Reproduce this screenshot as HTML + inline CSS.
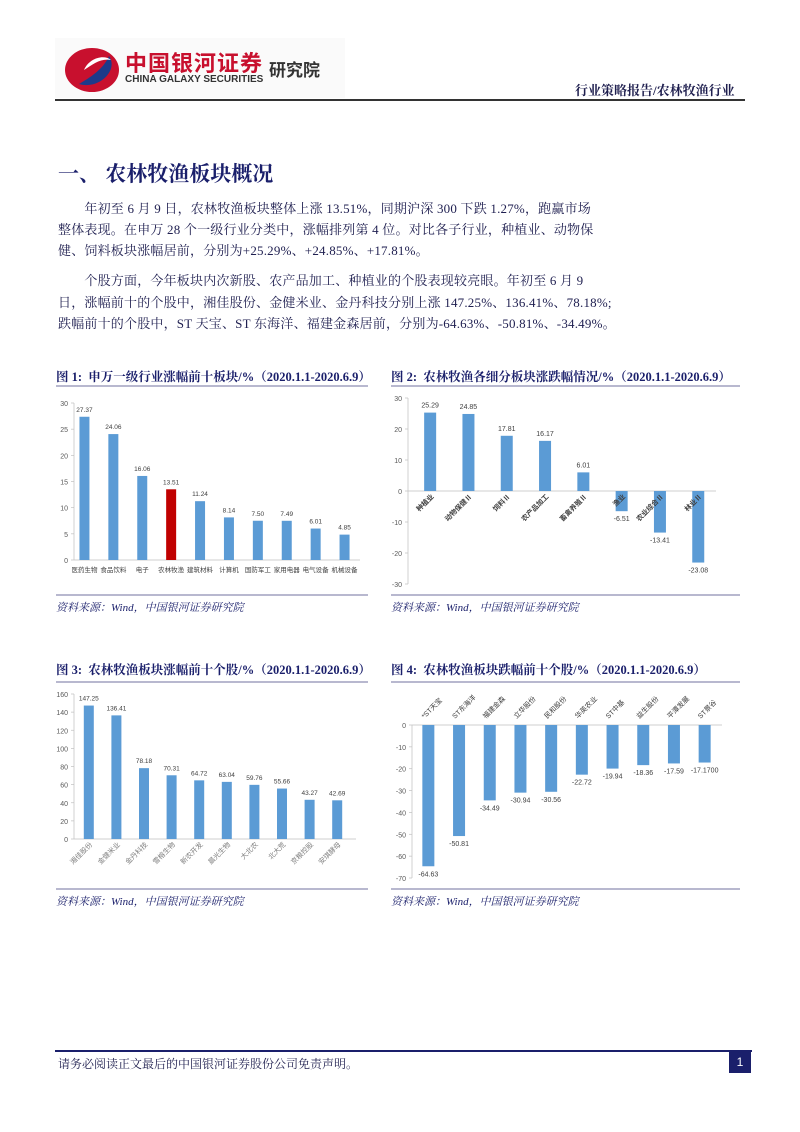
<!DOCTYPE html>
<html><head><meta charset="utf-8">
<style>
body{margin:0;width:800px;height:1132px;background:#fff;position:relative;overflow:hidden;font-family:"Liberation Serif","Noto Serif CJK SC",serif;color:#1f1f4f}
.a{position:absolute;white-space:nowrap}
.p{font-size:13px;color:#1f1f50;letter-spacing:0.2px}
.ft{font-size:12.5px;font-weight:bold;color:#1a1f6b}
.src{font-size:11px;font-style:italic;color:#1a1f6b}
svg text{font-family:"Liberation Sans","Noto Sans CJK SC",sans-serif}
</style></head><body>
<div class="a" style="left:55px;top:38px;width:290px;height:60px;background:#fafafa">
<svg width="70" height="60" style="position:absolute;left:4px;top:2px"><ellipse cx="33" cy="30" rx="27" ry="22" fill="#c8102e"/><path d="M20 44 C40 50 60 30 50 16 C44 30 30 38 20 44Z" fill="#1d3a8a"/><path d="M25 30 C30 18 45 14 52 20 C42 18 34 24 25 30Z" fill="#fff"/></svg>
<div class="a" style="left:70px;top:8px;font:bold 22px 'Noto Sans CJK SC',sans-serif;color:#c8102e;letter-spacing:1px">中国银河证券</div>
<div class="a" style="left:70px;top:36px;font:bold 10px 'Liberation Sans',sans-serif;color:#333">CHINA GALAXY SECURITIES</div>
<div class="a" style="left:214px;top:18px;font:bold 17px 'Noto Sans CJK SC',sans-serif;color:#333">研究院</div>
</div>
<div class="a" style="left:575px;top:80px;font-size:13px;font-weight:bold;color:#1f1f4f">行业策略报告/农林牧渔行业</div>
<div class="a" style="left:55px;top:99px;width:690px;height:2px;background:#333"></div>
<div class="a" style="left:58px;top:158px;font-size:21px;font-weight:bold;color:#1a1f6b">一、 农林牧渔板块概况</div>
<div class="a p" style="left:58px;top:198px;line-height:21px">&emsp;&emsp;年初至 6 月 9 日，农林牧渔板块整体上涨 13.51%，同期沪深 300 下跌 1.27%，跑赢市场<br>整体表现。在申万 28 个一级行业分类中，涨幅排列第 4 位。对比各子行业，种植业、动物保<br>健、饲料板块涨幅居前，分别为+25.29%、+24.85%、+17.81%。</div>
<div class="a p" style="left:58px;top:270px;line-height:21.5px">&emsp;&emsp;个股方面，今年板块内次新股、农产品加工、种植业的个股表现较亮眼。年初至 6 月 9<br>日，涨幅前十的个股中，湘佳股份、金健米业、金丹科技分别上涨 147.25%、136.41%、78.18%;<br>跌幅前十的个股中，ST 天宝、ST 东海洋、福建金森居前，分别为-64.63%、-50.81%、-34.49%。</div>

<div class="a ft" style="left:56px;top:367px">图 1:&nbsp; 申万一级行业涨幅前十板块/%（2020.1.1-2020.6.9）</div>
<div class="a ft" style="left:391px;top:367px">图 2:&nbsp; 农林牧渔各细分板块涨跌幅情况/%（2020.1.1-2020.6.9）</div>
<div class="a ft" style="left:56px;top:660px">图 3:&nbsp; 农林牧渔板块涨幅前十个股/%（2020.1.1-2020.6.9）</div>
<div class="a ft" style="left:391px;top:660px">图 4:&nbsp; 农林牧渔板块跌幅前十个股/%（2020.1.1-2020.6.9）</div>
<div class="a src" style="left:56px;top:599px">资料来源：Wind，中国银河证券研究院</div>
<div class="a src" style="left:391px;top:599px">资料来源：Wind，中国银河证券研究院</div>
<div class="a src" style="left:56px;top:893px">资料来源：Wind，中国银河证券研究院</div>
<div class="a src" style="left:391px;top:893px">资料来源：Wind，中国银河证券研究院</div>

<svg id="charts" class="a" style="left:0;top:0" width="800" height="1132"></svg>

<div class="a" style="left:55px;top:1050px;width:697px;height:2px;background:#1a1f6b"></div>
<div class="a" style="left:58px;top:1055px;font-size:12px;color:#1f1f4f">请务必阅读正文最后的中国银河证券股份公司免责声明。</div>
<div class="a" style="left:729px;top:1051px;width:22px;height:22px;background:#1a1f6b;color:#fff;font:12px 'Liberation Sans',sans-serif;text-align:center;line-height:22px">1</div>

<script>
const c1Cats=["医药生物","食品饮料","电子","农林牧渔","建筑材料","计算机","国防军工","家用电器","电气设备","机械设备"];
const c1Vals=[27.37,24.06,16.06,13.51,11.24,8.14,7.50,7.49,6.01,4.85];
const c1Ticks=[0,5,10,15,20,25,30];
const c2Cats=["种植业","动物保健Ⅱ","饲料Ⅱ","农产品加工","畜禽养殖Ⅱ","渔业","农业综合Ⅱ","林业Ⅱ"];
const c2Vals=[25.29,24.85,17.81,16.17,6.01,-6.51,-13.41,-23.08];
const c2Ticks=[-30,-20,-10,0,10,20,30];
const c3Cats=["湘佳股份","金健米业","金丹科技","雪榕生物","新农开发","晨光生物","大北农","北大荒","京粮控股","安琪酵母"];
const c3Vals=[147.25,136.41,78.18,70.31,64.72,63.04,59.76,55.66,43.27,42.69];
const c3Ticks=[0,20,40,60,80,100,120,140,160];
const c4Cats=["*ST天宝","ST东海洋","福建金森","立华股份","民和股份","华英农业","ST中基","益生股份","平潭发展","ST景谷"];
const c4Vals=[-64.63,-50.81,-34.49,-30.94,-30.56,-22.72,-19.94,-18.36,-17.59,-17.17];
const c4Labels=["-64.63","-50.81","-34.49","-30.94","-30.56","-22.72","-19.94","-18.36","-17.59","-17.1700"];
const c4Ticks=[-70,-60,-50,-40,-30,-20,-10,0];

const svg=document.getElementById('charts');
const NS='http://www.w3.org/2000/svg';
function mk(tag,at,txt){const e=document.createElementNS(NS,tag);for(const k in at)e.setAttribute(k,at[k]);if(txt!=null)e.textContent=txt;svg.appendChild(e);return e;}

function chart(o){
  const y=v=>o.y0-(v-o.vmin)/(o.vmax-o.vmin)*(o.y0-o.y1);
  const x=i=>o.x0+o.step*(i+0.5);
  o.ticks.forEach(t=>{
    const e=mk('text',{x:o.axX-6,y:y(t)+3,'font-size':7,'text-anchor':'end',fill:'#595959'},t);
    
    
    mk('line',{x1:o.axX-3,x2:o.axX,y1:y(t),y2:y(t),stroke:'#bfbfbf','stroke-width':0.7});
  });
  const vl=mk('line',{x1:o.axX,x2:o.axX,y1:y(o.vmax),y2:y(o.vmin),stroke:'#bfbfbf','stroke-width':0.7});
  
  
  const z=y(0);
  const ha=mk('line',{x1:o.axX,x2:o.xEnd,y1:z,y2:z,stroke:'#bfbfbf','stroke-width':0.7});
  
  
  o.vals.forEach((v,i)=>{
    const top=Math.min(y(v),z),h=Math.abs(y(v)-z);
    const r=mk('rect',{x:x(i)-o.bw/2,y:top,width:o.bw,height:h,fill:(o.red===i?'#c00000':'#5b9bd5')});
    
    
    const lbl=o.labels?o.labels[i]:v.toFixed(2);
    const ly=v>=0?y(v)-5:y(v)+10;
    const t=mk('text',{x:x(i),y:ly,'font-size':o.fs||6.5,'text-anchor':'middle',fill:'#404040'},lbl);
    
    
    let ct;
    if(o.catMode==='flat'){
      ct=mk('text',{x:x(i),y:z+12,'font-size':6.5,'text-anchor':'middle',fill:'#404040'},o.cats[i]);
    }else if(o.catMode==='rotBelow'){
      const cx=x(i)+4,cy=z+6;
      ct=mk('text',{x:cx,y:cy,'font-size':7,'text-anchor':'end',fill:'#7f7f7f',transform:`rotate(-45 ${cx} ${cy})`},o.cats[i]);
    }else if(o.catMode==='rotZero'){
      const cx=x(i)+(v>=0?4:4),cy=z+6;
      ct=mk('text',{x:cx,y:cy,'font-size':7,'text-anchor':'end','font-weight':'bold',fill:'#404040',transform:`rotate(-45 ${cx} ${cy})`},o.cats[i]);
    }else{
      const cx=x(i)-4,cy=z-6;
      ct=mk('text',{x:cx,y:cy,'font-size':7,'text-anchor':'start',fill:'#404040',transform:`rotate(-45 ${cx} ${cy})`},o.cats[i]);
    }
    
    
  });
}
chart({cats:c1Cats,vals:c1Vals,ticks:c1Ticks,vmin:0,vmax:30,y0:560,y1:403,axX:74,x0:70,step:28.9,xEnd:360,bw:10,red:3,catMode:'flat'});
chart({cats:c2Cats,vals:c2Vals,ticks:c2Ticks,vmin:-30,vmax:30,y0:584,y1:398,axX:408,x0:411,step:38.3,xEnd:716,bw:12,catMode:'rotZero',fs:7});
chart({cats:c3Cats,vals:c3Vals,ticks:c3Ticks,vmin:0,vmax:160,y0:839,y1:694,axX:74,x0:75,step:27.6,xEnd:356,bw:10,catMode:'rotBelow'});
chart({cats:c4Cats,vals:c4Vals,labels:c4Labels,ticks:c4Ticks,vmin:-70,vmax:0,y0:878,y1:725,axX:412,x0:413,step:30.7,xEnd:722,bw:12,catMode:'rotAbove',fs:7});

[[56,386,368],[391,386,740],[56,595,368],[391,595,740],[56,682,368],[391,682,740],[56,889,368],[391,889,740]].forEach(([x1,yy,x2])=>{
  const l=mk('line',{x1:x1,x2:x2,y1:yy,y2:yy,stroke:'#8e8eb2','stroke-width':1.2});
  
  
});
</script>
</body></html>
